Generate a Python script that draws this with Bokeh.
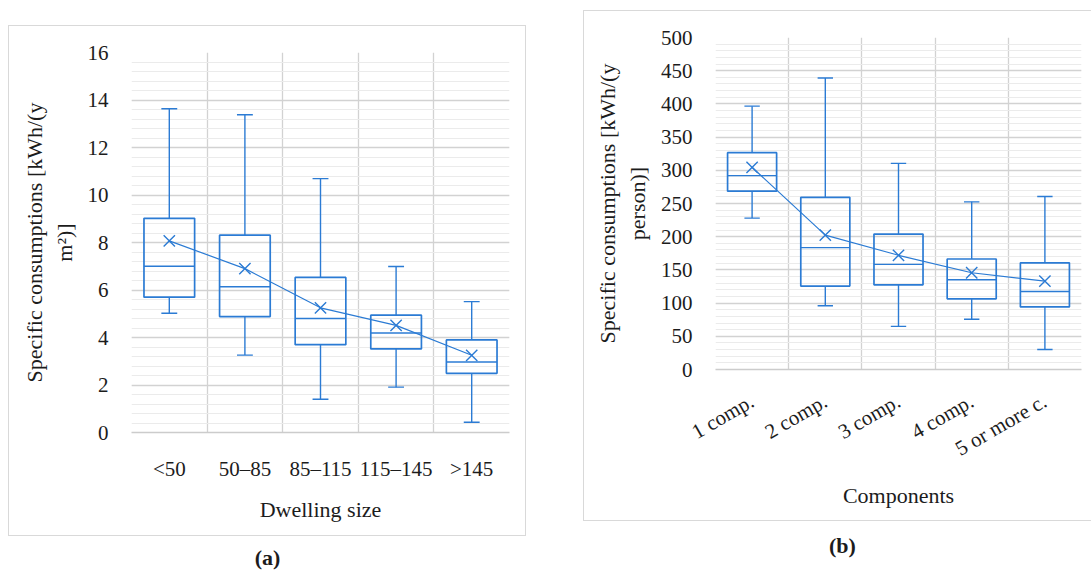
import math
from bokeh.plotting import figure
from bokeh.models import Range1d, FixedTicker, LinearAxis
from bokeh.embed import file_html
from bokeh.resources import INLINE

# ---- data: panel (a) ----
cats_a = ["<50", "50\u201385", "85\u2013115", "115\u2013145", ">145"]
a_min = [5.02, 3.26, 1.40, 1.91, 0.43]
a_q1 = [5.70, 4.88, 3.70, 3.52, 2.49]
a_med = [7.00, 6.14, 4.80, 4.19, 2.97]
a_q3 = [9.02, 8.31, 6.53, 4.94, 3.90]
a_max = [13.63, 13.38, 10.69, 6.99, 5.51]
a_mean = [8.07, 6.90, 5.25, 4.51, 3.25]
a_yticks = [0, 2, 4, 6, 8, 10, 12, 14, 16]

# ---- data: panel (b) ----
cats_b = ["1 comp.", "2 comp.", "3 comp.", "4 comp.", "5 or more c."]
b_min = [228.0, 96.0, 65.0, 75.6, 30.2]
b_q1 = [268.5, 125.7, 127.5, 106.5, 94.2]
b_med = [292.0, 183.5, 158.3, 135.2, 117.4]
b_q3 = [326.5, 259.3, 204.0, 166.4, 160.6]
b_max = [396.6, 439.1, 310.5, 252.5, 260.6]
b_mean = [304.5, 202.4, 172.0, 145.7, 133.0]
b_yticks = [0, 50, 100, 150, 200, 250, 300, 350, 400, 450, 500]

BLUE = "#2b7bd4"
FONT = "Liberation Serif"
TXT = "#1c1c1c"
GRID = "#d2d2d2"
MINOR = "#ebebeb"
FS = "21px"
FS_AX = "22px"
BORDER = "#d9d9d9"


def frame_css(left, top, right, bottom, sides):
    g = "linear-gradient(%s,%s)" % (BORDER, BORDER)
    layers = []
    if "t" in sides:
        layers.append("%s %dpx %dpx / %dpx 1px no-repeat" % (g, left, top, right - left + 1))
    if "b" in sides:
        layers.append("%s %dpx %dpx / %dpx 1px no-repeat" % (g, left, bottom, right - left + 1))
    if "l" in sides:
        layers.append("%s %dpx %dpx / 1px %dpx no-repeat" % (g, left, top, bottom - top + 1))
    if "r" in sides:
        layers.append("%s %dpx %dpx / 1px %dpx no-repeat" % (g, right, top, bottom - top + 1))
    layers.append("#ffffff")
    return ", ".join(layers)


def panel(cats, vmin, q1, med, q3, vmax, mean, yticks, nminor, width, borders,
          ylabel, xlabel, orient, xstand, xlstand, caption, cap_center, cap_stand,
          pos_left, box, sides):
    n = len(cats)
    xs = list(range(n))
    left_b, right_b, top_b, bottom_b = borders
    p = figure(width=width, height=572, x_range=Range1d(-0.5, n - 0.5),
               y_range=Range1d(yticks[0], yticks[-1]),
               output_backend="svg", toolbar_location=None,
               min_border_left=left_b, min_border_right=right_b,
               min_border_top=top_b, min_border_bottom=bottom_b,
               styles={"position": "absolute", "left": "%dpx" % pos_left, "top": "0px",
                       "background": frame_css(*box, sides)})
    p.outline_line_color = None
    p.background_fill_color = None
    p.border_fill_color = None

    step = (yticks[1] - yticks[0]) / nminor
    minor = [yticks[0] + i * step for i in range(int(round((yticks[-1] - yticks[0]) / step)) + 1)]
    yt = FixedTicker(ticks=yticks, minor_ticks=minor)
    p.yaxis.ticker = yt
    p.ygrid.ticker = yt
    p.ygrid.grid_line_color = GRID
    p.ygrid.grid_line_width = 1.3
    p.ygrid.minor_grid_line_color = MINOR
    p.ygrid.minor_grid_line_width = 1.2

    p.xaxis.ticker = FixedTicker(ticks=xs)
    p.xaxis.major_label_overrides = {x: c for x, c in zip(xs, cats)}
    p.xgrid.ticker = FixedTicker(ticks=[x - 0.5 for x in range(n + 1)])
    p.xgrid.grid_line_color = GRID
    p.xgrid.grid_line_width = 1.3

    for ax in (p.xaxis[0], p.yaxis[0]):
        ax.major_tick_line_color = None
        ax.minor_tick_line_color = None
        ax.major_label_text_font = FONT
        ax.major_label_text_font_size = FS
        ax.major_label_text_color = TXT
        ax.axis_label_text_font = FONT
        ax.axis_label_text_font_size = FS_AX
        ax.axis_label_text_font_style = "normal"
        ax.axis_label_text_color = TXT
    p.yaxis.axis_line_color = None
    p.xaxis.axis_line_color = "#cccccc"
    p.xaxis.axis_line_width = 1.4
    p.yaxis.major_label_standoff = 17
    p.yaxis.axis_label = ylabel
    p.yaxis.axis_label_standoff = 8
    p.xaxis.axis_label = xlabel
    p.xaxis.major_label_standoff = xstand
    p.xaxis.axis_label_standoff = xlstand
    if orient:
        p.xaxis.major_label_orientation = orient

    bw = 0.335
    cw = 0.105
    lefts = [x - bw for x in xs]
    rights = [x + bw for x in xs]
    p.quad(left=lefts, right=rights, bottom=q1, top=q3, fill_color=None,
           line_color=BLUE, line_width=1.7)
    p.segment(x0=lefts, x1=rights, y0=med, y1=med, line_color=BLUE, line_width=1.4)
    p.segment(x0=xs, x1=xs, y0=q3, y1=vmax, line_color=BLUE, line_width=1.4)
    p.segment(x0=xs, x1=xs, y0=vmin, y1=q1, line_color=BLUE, line_width=1.4)
    p.segment(x0=[x - cw for x in xs], x1=[x + cw for x in xs], y0=vmax, y1=vmax,
              line_color=BLUE, line_width=1.4)
    p.segment(x0=[x - cw for x in xs], x1=[x + cw for x in xs], y0=vmin, y1=vmin,
              line_color=BLUE, line_width=1.4)
    p.line(xs, mean, line_color=BLUE, line_width=1.2)
    p.scatter(xs, mean, marker="x", size=16, line_color=BLUE, line_width=1.4)

    # caption "(a)" / "(b)" as a single-label axis under the panel box
    frame_w = width - left_b - right_b
    cap_x = -0.5 + (cap_center - left_b) / frame_w * n
    cap_axis = LinearAxis(ticker=FixedTicker(ticks=[cap_x]),
                          major_label_overrides={cap_x: caption},
                          axis_line_color=None, major_tick_line_color=None,
                          minor_tick_line_color=None,
                          major_label_standoff=cap_stand,
                          major_label_text_font=FONT,
                          major_label_text_font_size=FS_AX,
                          major_label_text_font_style="bold",
                          major_label_text_color=TXT)
    p.add_layout(cap_axis, "below")
    return p


pa = panel(cats_a, a_min, a_q1, a_med, a_q3, a_max, a_mean, a_yticks, 5, 545,
           (131, 36, 52, 139),
           "Specific consumptions [kWh/(y\nm\u00b2)]", "Dwelling size", None, 18, 13,
           "(a)", 267, 14, 0, (8, 25, 525, 535), "tblr")

pb = panel(cats_b, b_min, b_q1, b_med, b_q3, b_max, b_mean, b_yticks, 5, 546,
           (170, 10, 37, 203),
           "Specific consumptions [kWh/(y\nperson)]", "Components", math.pi / 6, 24, 9,
           "(b)", 297, 15, 545, (38, 10, 560, 520), "tbl")

open("out.html", "w").write(file_html([pa, pb], INLINE))
